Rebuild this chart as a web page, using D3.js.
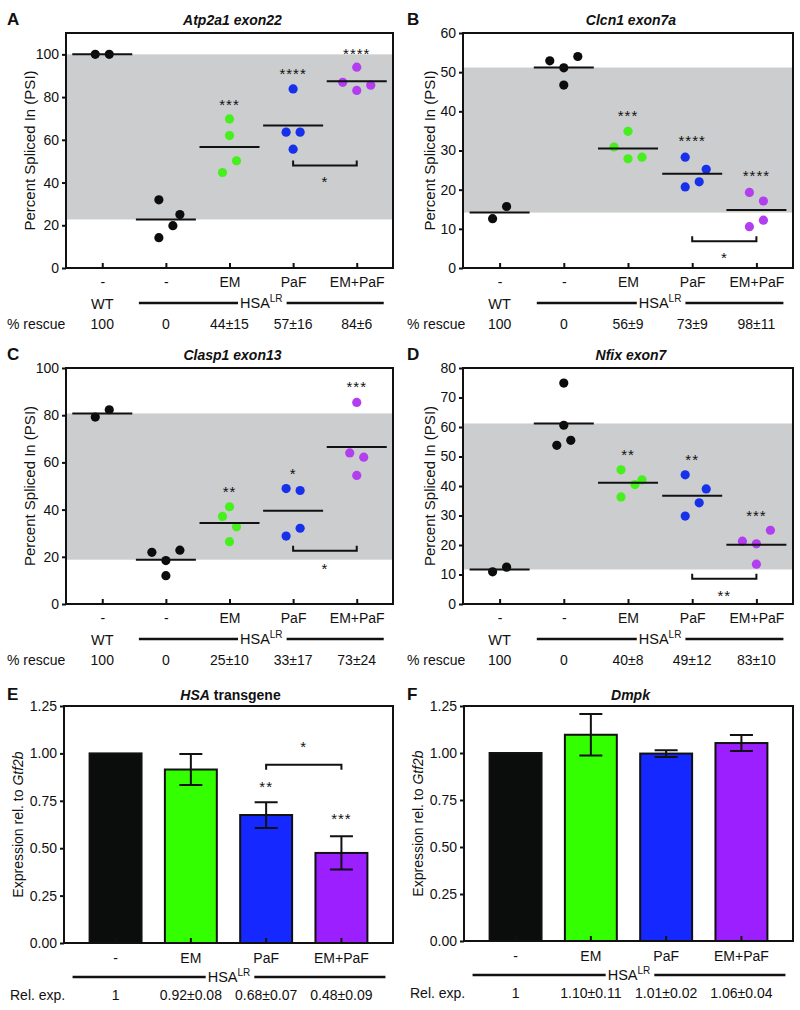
<!DOCTYPE html>
<html>
<head>
<meta charset="utf-8">
<script src="https://cdn.jsdelivr.net/npm/d3@7"></script>
<style>
  body { margin: 0; background: #fff; }
  text { font-family: "Liberation Sans", Arial, sans-serif; fill: #111; }
</style>
</head>
<body>
<svg id="fig" width="800" height="1010"></svg>
<script>
// ---- data ----
const groupLabels = ["-", "-", "EM", "PaF", "EM+PaF"];
const dotColors = ["#0c0c0c", "#0c0c0c", "#45f01c", "#1730ea", "#b23ef0"];

// PSI per mouse, per group (WT, HSA-LR untreated, EM, PaF, EM+PaF)
const atpValues = [[100, 100], [31.9, 25, 19.8, 14.2], [69.8, 62, 50.2, 44.7], [83.8, 63.6, 63.6, 55.6], [94, 86.9, 85.6, 83.1]];
const atpCols = [[-1, 1], [-1, 2, 1, -1], [0, 0, 1, -1], [0, -1, 1, 0], [0, -2, 2, 0]];
const atpStars = [{ g: 2, t: "***", v: 78 }, { g: 3, t: "****", v: 92.5 }, { g: 4, t: "****", v: 102 }];
const atpBracket = { a: 3, b: 4, v: 48, t: "*", tv: 42 };
const atpRescue = ["100", "0", "44±15", "57±16", "84±6"];

const clcnValues = [[12.6, 15.7], [52.9, 51.1, 46.7, 54], [30.9, 34.9, 27.9, 28.3], [28.3, 20.7, 22, 25.2], [19.3, 17.1, 12.2, 10.55]];
const clcnCols = [[-1, 1], [-2, 0, 0, 2], [-2, 0, 0, 2], [-1, -1, 1, 2], [-1, 1, 1, -1]];
const clcnStars = [{ g: 2, t: "***", v: 39.8 }, { g: 3, t: "****", v: 33.2 }, { g: 4, t: "****", v: 24.3 }];
const clcnBracket = { a: 3, b: 4, v: 6.8, t: "*", tv: 3.4 };
const clcnRescue = ["100", "0", "56±9", "73±9", "98±11"];

const claspValues = [[79.2, 82.3], [21.9, 18.4, 12, 22.8], [41.2, 37.1, 32.7, 26.4], [48.9, 48.1, 32.1, 28.8], [85.4, 64, 62.2, 54.5]];
const claspCols = [[-1, 1], [-2, 0, 0, 2], [0, -1, 1, 0], [-1, 1, 1, -1], [0, -1, 1, 0]];
const claspStars = [{ g: 2, t: "**", v: 49.1 }, { g: 3, t: "*", v: 56.6 }, { g: 4, t: "***", v: 93.6 }];
const claspBracket = { a: 3, b: 4, v: 22.6, t: "*", tv: 16.5 };
const claspRescue = ["100", "0", "25±10", "33±17", "73±24"];

const nfixValues = [[10.9, 12.5], [74.9, 60.6, 53.8, 55.5], [45.5, 36.3, 40.5, 42.1], [43.8, 29.8, 34.3, 39], [21.3, 20.4, 13.5, 25]];
const nfixCols = [[-1, 1], [0, 0, -1, 1], [-1, -1, 1, 2], [-1, -1, 1, 2], [-2, 0, 0, 2]];
const nfixStars = [{ g: 2, t: "**", v: 51.7 }, { g: 3, t: "**", v: 50 }, { g: 4, t: "***", v: 31 }];
const nfixBracket = { a: 3, b: 4, v: 8.6, t: "**", tv: 3.85 };
const nfixRescue = ["100", "0", "40±8", "49±12", "83±10"];

// expression bars
const barGroups = ["-", "EM", "PaF", "EM+PaF"];
const barColors = ["#0b0d0c", "#33ff00", "#1428ff", "#9b1fff"];
const hsaMeans = [1.0, 0.915, 0.675, 0.475];
const hsaErr = [0, 0.082, 0.068, 0.088];
const hsaStars = [{ g: 2, t: "**", v: 0.84 }, { g: 3, t: "***", v: 0.67 }];
const hsaBracket = { a: 2, b: 3, v: 0.94, t: "*", tv: 1.05 };
const hsaRel = ["1", "0.92±0.08", "0.68±0.07", "0.48±0.09"];

const dmpkMeans = [1.0, 1.097, 0.997, 1.053];
const dmpkErr = [0, 0.11, 0.018, 0.043];
const dmpkRel = ["1", "1.10±0.11", "1.01±0.02", "1.06±0.04"];

const svg = d3.select("#fig");
const ink = "#111";

function hsaLabel(g, xa, xb, yLine) {
  // HSA^LR with a rule either side
  const mid = (xa + xb) / 2;
  const t = g.append("text").attr("x", mid).attr("y", yLine + 5)
    .attr("text-anchor", "middle").attr("font-size", 14.5);
  t.append("tspan").text("HSA");
  t.append("tspan").attr("font-size", 10).attr("dy", -6).text("LR");
  const bb = t.node().getBBox();
  g.append("line").attr("x1", xa).attr("x2", bb.x - 2).attr("y1", yLine).attr("y2", yLine)
    .attr("stroke", ink).attr("stroke-width", 2.5);
  g.append("line").attr("x1", bb.x + bb.width + 4).attr("x2", xb).attr("y1", yLine).attr("y2", yLine)
    .attr("stroke", ink).attr("stroke-width", 2.5);
}

function starText(g, x, y, txt) {
  g.append("text").attr("x", x).attr("y", y + 8.5)
    .attr("text-anchor", "middle").attr("font-size", 15).attr("letter-spacing", 1)
    .text(txt);
}

function styleAxis(ax) {
  ax.attr("font-size", 14);
  ax.select(".domain").remove();
  ax.selectAll("line").attr("stroke", ink).attr("stroke-width", 2);
}

function drawPSI(p) {
  const [x0, y0, x1, y1] = p.box;
  const g = svg.append("g");
  const x = d3.scalePoint().domain(d3.range(5)).range([x0, x1]).padding(0.57);
  const y = d3.scaleLinear().domain([0, p.yMax]).range([y1, y0]);
  const means = p.values.map(d => d3.mean(d));

  // grey band between WT and untreated HSA-LR means
  const hi = Math.max(means[0], means[1]), lo = Math.min(means[0], means[1]);
  g.append("rect").attr("x", x0).attr("width", x1 - x0)
    .attr("y", y(hi)).attr("height", y(lo) - y(hi)).attr("fill", "#cbcdce");

  const ya = g.append("g").attr("transform", `translate(${x0},0)`)
    .call(d3.axisLeft(y).tickValues(d3.range(0, p.yTop + 0.001, p.yStep)).tickSize(4).tickPadding(3));
  styleAxis(ya);

  const xa = g.append("g").attr("transform", `translate(0,${y1})`)
    .call(d3.axisBottom(x).tickSize(-5).tickPadding(9).tickFormat(i => groupLabels[i]));
  styleAxis(xa);

  g.append("rect").attr("x", x0).attr("y", y0).attr("width", x1 - x0).attr("height", y1 - y0)
    .attr("fill", "none").attr("stroke", ink).attr("stroke-width", 2);

  // dots
  p.values.forEach((vals, gi) => {
    g.selectAll(null).data(vals).join("circle")
      .attr("cx", (d, i) => x(gi) + p.cols[gi][i] * 7)
      .attr("cy", d => y(d))
      .attr("r", 4.6)
      .attr("fill", dotColors[gi]);
  });

  // mean lines
  g.selectAll(null).data(means).join("line")
    .attr("x1", (d, i) => x(i) - 30).attr("x2", (d, i) => x(i) + 30)
    .attr("y1", d => y(d)).attr("y2", d => y(d))
    .attr("stroke", ink).attr("stroke-width", 2);

  p.stars.forEach(s => starText(g, x(s.g), y(s.v), s.t));

  const b = p.bracket, by = y(b.v);
  g.append("path")
    .attr("d", `M${x(b.a)},${by - 5}V${by}H${x(b.b)}V${by - 5}`)
    .attr("fill", "none").attr("stroke", ink).attr("stroke-width", 2);
  starText(g, (x(b.a) + x(b.b)) / 2, y(b.tv), b.t);

  // titles
  g.append("text").attr("x", p.left + 7).attr("y", y0 - 8)
    .attr("font-size", 17).attr("font-weight", "bold").text(p.letter);
  g.append("text").attr("x", (x0 + x1) / 2 + 3).attr("y", y0 - 8)
    .attr("text-anchor", "middle").attr("font-size", 14).attr("font-weight", "bold")
    .attr("font-style", "italic").text(p.title);
  g.append("text").attr("transform", `translate(${p.left + 35},${(y0 + y1) / 2}) rotate(-90)`)
    .attr("text-anchor", "middle").attr("font-size", 15).text("Percent Spliced In (PSI)");

  // group rows
  g.append("text").attr("x", x(0)).attr("y", y1 + 41).attr("text-anchor", "middle")
    .attr("font-size", 14.5).text("WT");
  hsaLabel(g, x(1) - 27, x(4) + 27, y1 + 35);
  g.append("text").attr("x", p.left + 7).attr("y", y1 + 61).attr("font-size", 14).text("% rescue");
  g.selectAll(null).data(p.rescue).join("text")
    .attr("x", (d, i) => x(i)).attr("y", y1 + 61).attr("text-anchor", "middle")
    .attr("font-size", 14).text(d => d);
}

function drawBars(p) {
  const [x0, y0, x1, y1] = p.box;
  const g = svg.append("g");
  const x = d3.scaleBand().domain(d3.range(4)).range([x0, x1]).paddingInner(0.31).paddingOuter(0.34);
  const y = d3.scaleLinear().domain([0, 1.25]).range([y1, y0]);
  const cx = i => x(i) + x.bandwidth() / 2;

  g.selectAll(null).data(p.means).join("rect")
    .attr("x", (d, i) => x(i)).attr("width", x.bandwidth())
    .attr("y", d => y(d)).attr("height", d => y1 - y(d))
    .attr("fill", (d, i) => barColors[i])
    .attr("stroke", ink).attr("stroke-width", 2);

  const ya = g.append("g").attr("transform", `translate(${x0},0)`)
    .call(d3.axisLeft(y).tickValues(d3.range(0, 1.26, 0.25)).tickFormat(d3.format(".2f")).tickSize(4).tickPadding(3));
  styleAxis(ya);

  const xa = g.append("g").attr("transform", `translate(0,${y1})`)
    .call(d3.axisBottom(x).tickSize(-5).tickPadding(10).tickFormat(i => barGroups[i]));
  styleAxis(xa);

  g.append("rect").attr("x", x0).attr("y", y0).attr("width", x1 - x0).attr("height", y1 - y0)
    .attr("fill", "none").attr("stroke", ink).attr("stroke-width", 2);

  // error bars
  p.means.forEach((m, i) => {
    const e = p.err[i];
    if (!e) return;
    const c = cx(i), top = y(m + e), bot = y(m - e);
    g.append("path")
      .attr("d", `M${c},${top}V${bot}M${c - 11.5},${top}H${c + 11.5}M${c - 11.5},${bot}H${c + 11.5}`)
      .attr("fill", "none").attr("stroke", ink).attr("stroke-width", 2);
  });

  (p.stars || []).forEach(s => starText(g, cx(s.g), y(s.v), s.t));
  if (p.bracket) {
    const b = p.bracket, by = y(b.v);
    g.append("path")
      .attr("d", `M${cx(b.a)},${by + 5}V${by}H${cx(b.b)}V${by + 5}`)
      .attr("fill", "none").attr("stroke", ink).attr("stroke-width", 2);
    starText(g, (cx(b.a) + cx(b.b)) / 2, y(b.tv), b.t);
  }

  g.append("text").attr("x", p.left + 7).attr("y", y0 - 6)
    .attr("font-size", 17).attr("font-weight", "bold").text(p.letter);
  const t = g.append("text").attr("x", (x0 + x1) / 2 + 2).attr("y", y0 - 6)
    .attr("text-anchor", "middle").attr("font-size", 14).attr("font-weight", "bold");
  p.title.forEach(([s, it]) => t.append("tspan").attr("font-style", it ? "italic" : "normal").text(s));

  const yl = g.append("text").attr("transform", `translate(${p.left + 23},${(y0 + y1) / 2}) rotate(-90)`)
    .attr("text-anchor", "middle").attr("font-size", 14);
  yl.append("tspan").text("Expression rel. to ");
  yl.append("tspan").attr("font-style", "italic").text("Gtf2b");

  hsaLabel(g, cx(0) - 43, cx(3) + 44, y1 + 34);
  g.append("text").attr("x", p.left + 10).attr("y", y1 + 57).attr("font-size", 14).text("Rel. exp.");
  g.selectAll(null).data(p.rel).join("text")
    .attr("x", (d, i) => cx(i)).attr("y", y1 + 57).attr("text-anchor", "middle")
    .attr("font-size", 14).text(d => d);
}

drawPSI({ letter: "A", title: "Atp2a1 exon22", left: 0, box: [66, 33, 393, 268], yMax: 110, yTop: 100, yStep: 20,
  values: atpValues, cols: atpCols, stars: atpStars, bracket: atpBracket, rescue: atpRescue });
drawPSI({ letter: "B", title: "Clcn1 exon7a", left: 400, box: [463, 33, 793, 268], yMax: 60, yTop: 60, yStep: 10,
  values: clcnValues, cols: clcnCols, stars: clcnStars, bracket: clcnBracket, rescue: clcnRescue });
drawPSI({ letter: "C", title: "Clasp1 exon13", left: 0, box: [66, 368, 393, 604], yMax: 100, yTop: 100, yStep: 20,
  values: claspValues, cols: claspCols, stars: claspStars, bracket: claspBracket, rescue: claspRescue });
drawPSI({ letter: "D", title: "Nfix exon7", left: 400, box: [463, 368, 793, 604], yMax: 80, yTop: 80, yStep: 10,
  values: nfixValues, cols: nfixCols, stars: nfixStars, bracket: nfixBracket, rescue: nfixRescue });

drawBars({ letter: "E", title: [["HSA", true], [" transgene", false]], left: 0, box: [64, 706, 393, 943],
  means: hsaMeans, err: hsaErr, stars: hsaStars, bracket: hsaBracket, rel: hsaRel });
drawBars({ letter: "F", title: [["Dmpk", true]], left: 400, box: [464, 706, 793, 941],
  means: dmpkMeans, err: dmpkErr, rel: dmpkRel });
</script>
</body>
</html>
